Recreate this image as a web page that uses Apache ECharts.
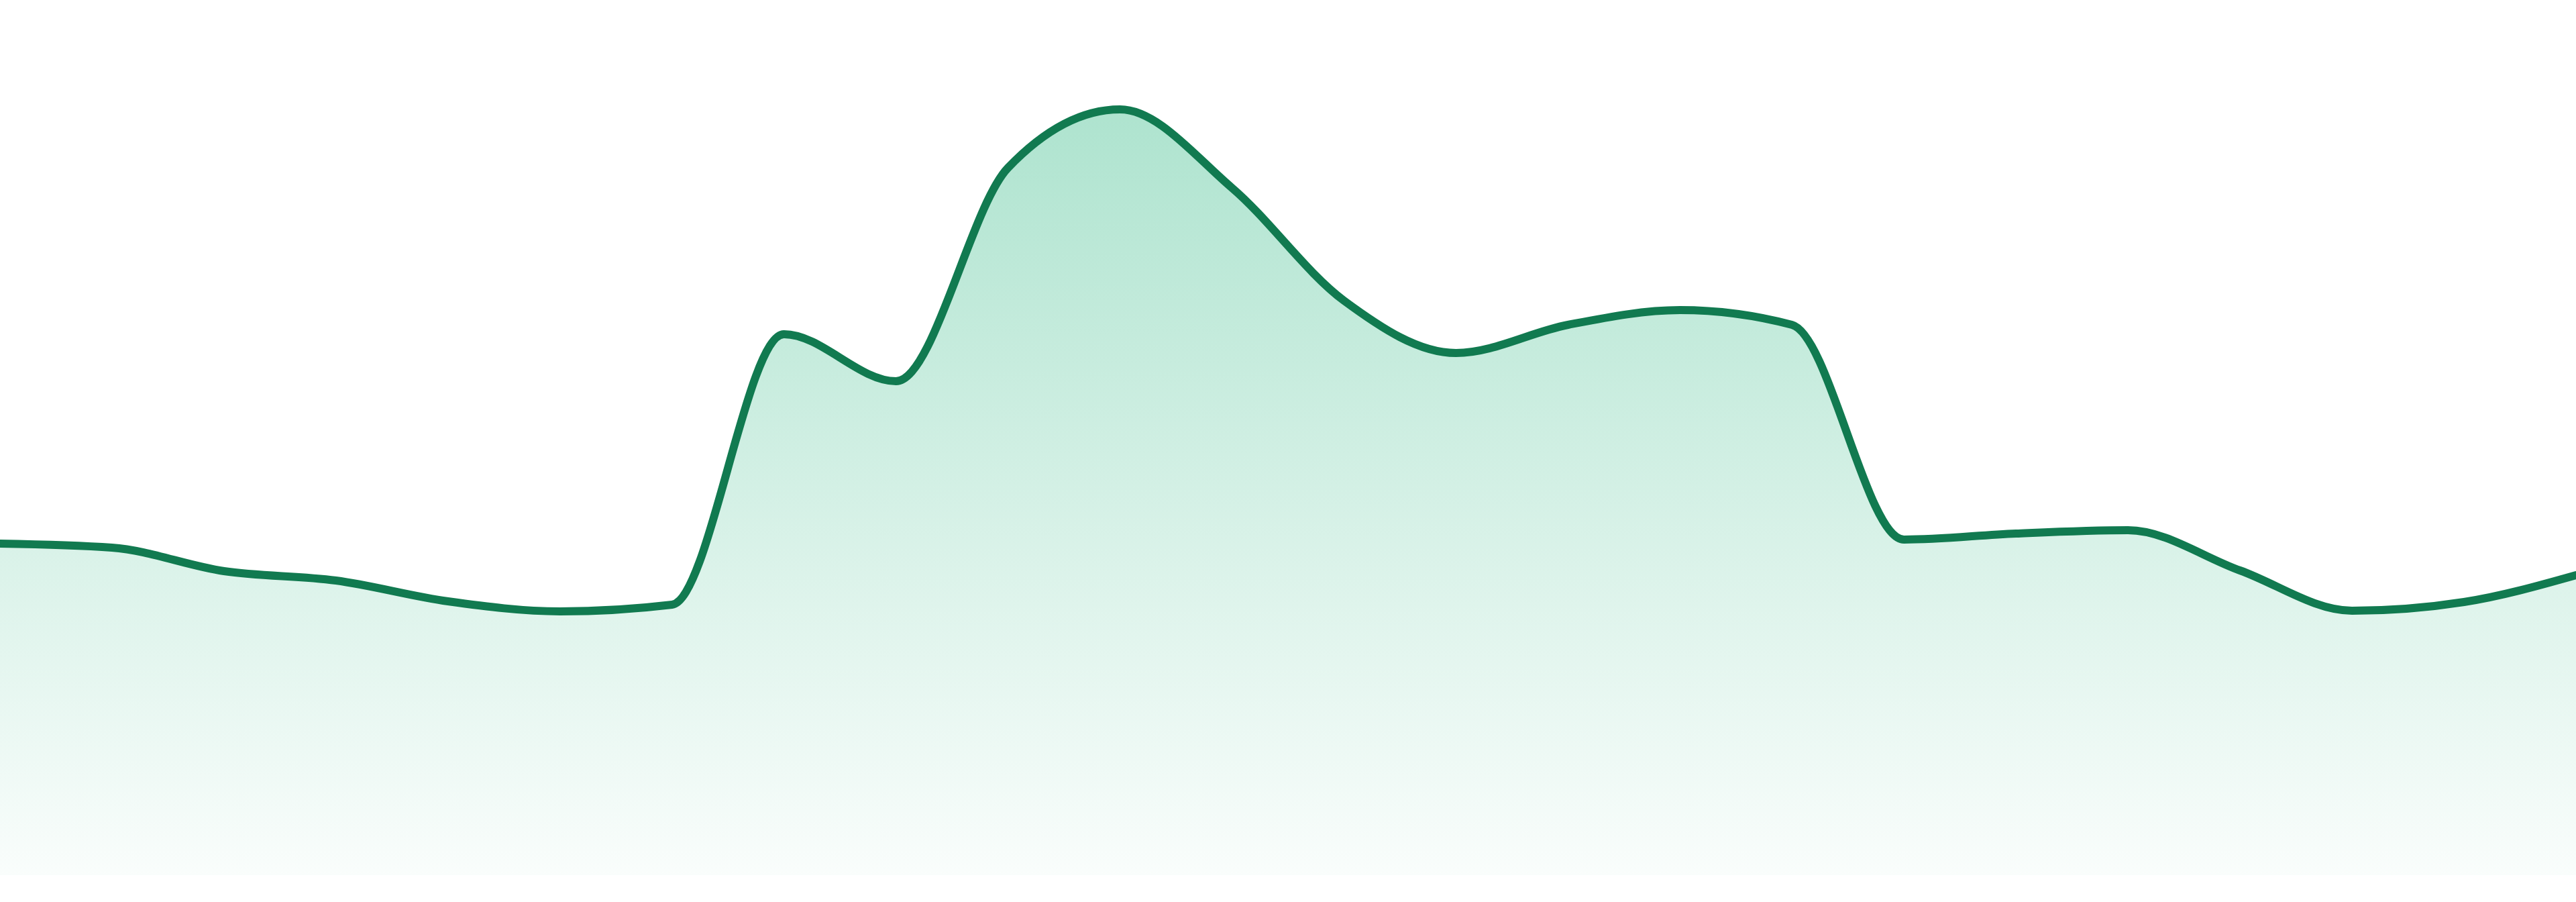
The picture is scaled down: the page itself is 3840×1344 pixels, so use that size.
<!DOCTYPE html>
<html>
<head>
<meta charset="utf-8">
<style>
  html, body { margin: 0; padding: 0; background: #ffffff; width: 100%; height: 100%; overflow: hidden; }
  #chart { width: 100vw; height: 100vh; }
</style>
<script src="https://cdn.jsdelivr.net/npm/echarts@6/dist/echarts.min.js"></script>
</head>
<body>
<div id="chart"></div>
<script>
const categories = ['1','2','3','4','5','6','7','8','9','10','11','12','13','14','15','16','17','18','19','20','21','22','23','24'];
const values = [494, 488, 453, 439, 408, 393, 403, 806, 736, 1054, 1141, 1024, 856, 778, 820, 842, 820, 500, 509, 514, 454, 394, 407, 447];
const yMin = 0;
const yMax = 1304;

const el = document.getElementById('chart');
const scale = el.clientWidth / 3840;

// Monotone-X cubic (Fritsch–Carlson) path segments through screen points
function sgn(v) { return v < 0 ? -1 : 1; }
function monotoneSegments(pts) {
  const n = pts.length;
  const h = [], s = [], t = new Array(n);
  for (let i = 0; i < n - 1; i++) {
    h[i] = pts[i + 1][0] - pts[i][0];
    s[i] = (pts[i + 1][1] - pts[i][1]) / h[i];
  }
  for (let i = 1; i < n - 1; i++) {
    const p = (s[i - 1] * h[i] + s[i] * h[i - 1]) / (h[i - 1] + h[i]);
    t[i] = (sgn(s[i - 1]) + sgn(s[i])) * Math.min(Math.abs(s[i - 1]), Math.abs(s[i]), 0.5 * Math.abs(p)) || 0;
  }
  t[0] = (3 * s[0] - t[1]) / 2;
  t[n - 1] = (3 * s[n - 2] - t[n - 2]) / 2;
  let d = '';
  for (let i = 0; i < n - 1; i++) {
    const dx = h[i] / 3;
    const a = pts[i], b = pts[i + 1];
    d += ' C ' + (a[0] + dx) + ' ' + (a[1] + dx * t[i]) + ' ' +
         (b[0] - dx) + ' ' + (b[1] - dx * t[i + 1]) + ' ' + b[0] + ' ' + b[1];
  }
  return d;
}

const chart = echarts.init(el, null, { renderer: 'canvas' });
chart.setOption({
  animation: false,
  backgroundColor: '#ffffff',
  grid: { left: 0, right: 0, top: 0, bottom: '2.976%', containLabel: false },
  xAxis: {
    type: 'category',
    data: categories,
    boundaryGap: false,
    show: false
  },
  yAxis: {
    type: 'value',
    min: yMin,
    max: yMax,
    show: false
  },
  series: [{
    type: 'custom',
    coordinateSystem: 'cartesian2d',
    clip: false,
    data: values.map((v, i) => [i, v]),
    encode: { x: 0, y: 1 },
    renderItem: function (params, api) {
      if (params.dataIndex !== 0) return null;
      const pts = values.map((v, i) => api.coord([i, v]));
      const baseY = api.coord([0, yMin])[1];
      const segs = monotoneSegments(pts);
      const first = pts[0], last = pts[pts.length - 1];
      const lineD = 'M ' + first[0] + ' ' + first[1] + segs;
      const areaD = 'M ' + first[0] + ' ' + baseY + ' L ' + first[0] + ' ' + first[1] + segs +
                    ' L ' + last[0] + ' ' + baseY + ' Z';
      return {
        type: 'group',
        children: [
          {
            type: 'path',
            shape: { pathData: areaD },
            style: {
              fill: {
                type: 'linear', x: 0, y: 0, x2: 0, y2: 1,
                colorStops: [
                  { offset: 0, color: 'rgba(20,175,115,0.345)' },
                  { offset: 1, color: 'rgba(20,175,115,0.025)' }
                ]
              },
              stroke: 'none'
            }
          },
          {
            type: 'path',
            shape: { pathData: lineD },
            style: {
              fill: 'none',
              stroke: '#117a50',
              lineWidth: 12 * scale,
              lineJoin: 'round',
              lineCap: 'round'
            }
          }
        ]
      };
    }
  }]
});
</script>
</body>
</html>
